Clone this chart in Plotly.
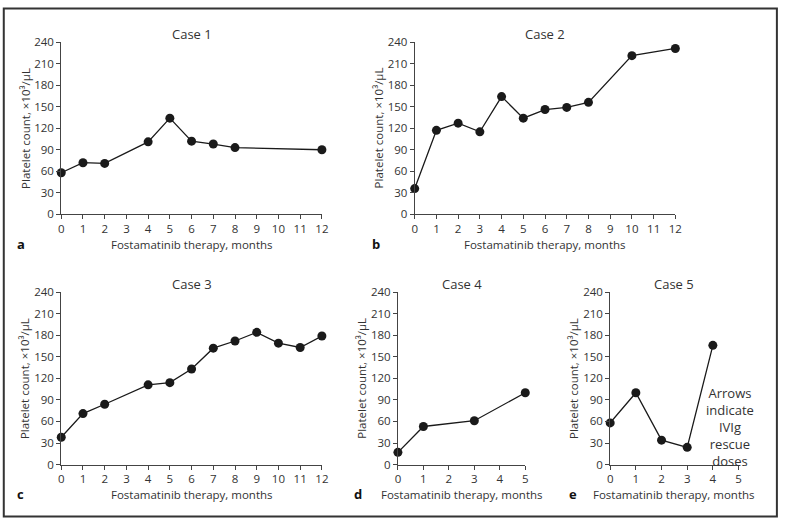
import plotly.graph_objects as go

W, H = 787, 525

# ---- data ----
case1_months = [0, 1, 2, 4, 5, 6, 7, 8, 12]
case1_plt = [58, 72, 71, 101, 134, 102, 98, 93, 90]

case2_months = [0, 1, 2, 3, 4, 5, 6, 7, 8, 10, 12]
case2_plt = [36, 117, 127, 115, 164, 134, 146, 149, 156, 221, 231]

case3_months = [0, 1, 2, 4, 5, 6, 7, 8, 9, 10, 11, 12]
case3_plt = [38, 71, 84, 111, 114, 133, 162, 172, 184, 169, 163, 179]

case4_months = [0, 1, 3, 5]
case4_plt = [17, 53, 61, 100]

case5_months = [0, 1, 2, 3, 4]
case5_plt = [58, 100, 34, 24, 166]
ivig_months = [0.73, 1.74, 3.3]

titles = ["Case 1", "Case 2", "Case 3", "Case 4", "Case 5"]
letters = ["a", "b", "c", "d", "e"]
xmax = [12, 12, 12, 5, 5]
y_ticks = [0, 30, 60, 90, 120, 150, 180, 210, 240]

# ---- layout boxes in pixels: (left, right, top, bottom) ----
boxes = [
    (59, 323, 35, 212.5),
    (417, 681, 35, 212.5),
    (59, 323, 292.5, 470),
    (400, 529, 292.5, 470),
    (615, 745, 292.5, 470),
]
ytitle_x = [22, 380, 22, 363, 578]
letter_pos = [(18, 243), (378, 243), (18, 500), (360, 500), (577, 500)]
xtitle_y = [243.5, 243.5, 501, 501, 501]

series = [
    (case1_months, case1_plt),
    (case2_months, case2_plt),
    (case3_months, case3_plt),
    (case4_months, case4_plt),
    (case5_months, case5_plt),
]

FONT = "Open Sans"
TXT = "#333333"
AX = "#444444"

fig = go.Figure()
annotations = []

def px(x):
    return x / W

def py(y):
    return 1 - y / H

for i, ((xs, ys), (l, r, t, b)) in enumerate(zip(series, boxes)):
    n = i + 1
    xa = "x" if n == 1 else f"x{n}"
    ya = "y" if n == 1 else f"y{n}"
    fig.add_trace(go.Scatter(
        x=xs, y=ys, mode="lines+markers", xaxis=xa, yaxis=ya,
        line=dict(color="#1a1a1a", width=1.3),
        marker=dict(color="#1a1a1a", size=9),
        cliponaxis=False, showlegend=False, hoverinfo="skip",
    ))
    axis_common = dict(
        showgrid=False, zeroline=False, showline=True, linecolor=AX, linewidth=1,
        ticks="outside", ticklen=4, tickcolor=AX, tickwidth=1,
        tickfont=dict(family=FONT, size=11.5, color=TXT),
    )
    fig.update_layout(**{
        ("xaxis" if n == 1 else f"xaxis{n}"): dict(
            domain=[px(l), px(r)], anchor=ya, range=[0, xmax[i]],
            tickmode="linear", tick0=0, dtick=1, **axis_common),
        ("yaxis" if n == 1 else f"yaxis{n}"): dict(
            domain=[py(b), py(t)], anchor=xa, range=[0, 240],
            tickmode="array", tickvals=y_ticks, **axis_common),
    })
    cx = (l + r) / 2
    annotations.append(dict(text=titles[i], x=px(cx), y=py(t - 8), xref="paper", yref="paper",
                            showarrow=False, font=dict(family=FONT, size=13, color=TXT),
                            xanchor="center", yanchor="middle"))
    annotations.append(dict(text="Platelet count, ×10³/µL", x=px(ytitle_x[i]), y=py((t + b) / 2),
                            xref="paper", yref="paper", showarrow=False, textangle=-90,
                            font=dict(family=FONT, size=11.5, color=TXT),
                            xanchor="center", yanchor="middle"))
    annotations.append(dict(text="Fostamatinib therapy, months", x=px(cx), y=py(xtitle_y[i]),
                            xref="paper", yref="paper", showarrow=False,
                            font=dict(family=FONT, size=11.5, color=TXT),
                            xanchor="center", yanchor="middle"))
    lx, ly = letter_pos[i]
    annotations.append(dict(text=f"<b>{letters[i]}</b>", x=px(lx), y=py(ly),
                            xref="paper", yref="paper", showarrow=False,
                            font=dict(family=FONT, size=13, color="#111111"),
                            xanchor="center", yanchor="middle"))

for m in ivig_months:
    annotations.append(dict(x=m, y=-4, ax=m, ay=-26, xref="x5", yref="y5", axref="x5", ayref="y5",
                            text="", showarrow=True, arrowhead=2, arrowsize=1.1, arrowwidth=1.2,
                            arrowcolor="#111111"))

annotations.append(dict(text="Arrows<br>indicate<br>IVIg<br>rescue<br>doses", x=px(736.5), y=py(431.3),
                        xref="paper", yref="paper", showarrow=False, align="center",
                        font=dict(family=FONT, size=13, color=TXT),
                        xanchor="center", yanchor="middle"))

fig.update_layout(
    width=W, height=H, margin=dict(l=0, r=0, t=0, b=0),
    paper_bgcolor="white", plot_bgcolor="white",
    annotations=annotations,
    shapes=[dict(type="rect", xref="paper", yref="paper", x0=0.001, y0=0.003, x1=0.996, y1=0.999,
                 line=dict(color="#333333", width=2))],
)

post = ("document.documentElement.style.margin='0';document.body.style.margin='0';"
        "document.body.style.padding='0';document.body.style.overflow='hidden';"
        "document.documentElement.style.overflow='hidden';")
fig.write_html("out.html", post_script=post, config={"displayModeBar": False})
